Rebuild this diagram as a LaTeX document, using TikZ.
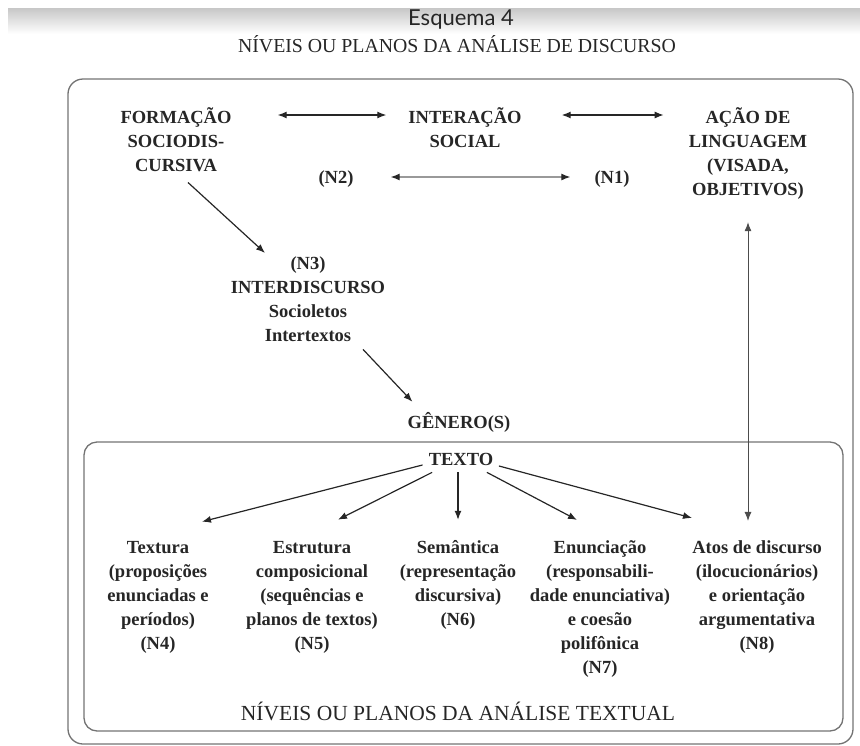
\documentclass[tikz,border=0pt]{standalone}
\usepackage{fontspec}
\setmainfont{Liberation Serif}
\newfontfamily\headfont{Lato}
\usetikzlibrary{arrows.meta}

\begin{document}
\begin{tikzpicture}[x=1pt,y=-1pt,
  >={Latex[length=9pt,width=7pt]},
  lvl/.style={font=\bfseries\fontsize{18.5}{24}\selectfont,align=center,inner sep=0pt,anchor=base,text=black!85},
  ttl/.style={font=\fontsize{19.8}{24}\selectfont,inner sep=0pt,anchor=base,text=black!85},
  frame/.style={draw=black!55,line width=1.3pt,rounded corners=15pt},
  link/.style={line width=1.2pt,draw=black!85}]

\useasboundingbox (0,0) rectangle (860,745);
\shade[top color=black!22,bottom color=white] (8,8) rectangle (860,34);

\node[ttl,font=\headfont\fontsize{22}{24}\selectfont] (esq) at (461,25) {Esquema 4};
\node[ttl] (tit) at (457,52) {NÍVEIS OU PLANOS DA ANÁLISE DE DISCURSO};

\draw[frame] (68,79) rectangle (853,744);
\draw[frame,rounded corners=13pt] (84,442) rectangle (843,731);

\node[lvl] (form) at (176,171) {FORMAÇÃO\\SOCIODIS-\\CURSIVA};
\node[lvl] (inter) at (465,147) {INTERAÇÃO\\SOCIAL};
\node[lvl] (acao) at (748,195) {AÇÃO DE\\LINGUAGEM\\(VISADA,\\OBJETIVOS)};
\node[lvl] (ntwo) at (336,183) {(N2)};
\node[lvl] (none) at (612,183) {(N1)};
\node[lvl] (inter3) at (308,341) {(N3)\\INTERDISCURSO\\Socioletos\\Intertextos};
\node[lvl] (gen) at (459,428) {GÊNERO(S)};
\node[lvl] (texto) at (461,465) {TEXTO};
\node[lvl] (tex) at (158,649) {Textura\\(proposições\\enunciadas e\\períodos)\\(N4)};
\node[lvl] (estr) at (312,649) {Estrutura\\composicional\\(sequências e\\planos de textos)\\(N5)};
\node[lvl] (sem) at (458,625) {Semântica\\(representação\\discursiva)\\(N6)};
\node[lvl] (enun) at (600,673) {Enunciação\\(responsabili-\\dade enunciativa)\\e coesão\\polifônica\\(N7)};
\node[lvl] (atos) at (757,649) {Atos de discurso\\(ilocucionários)\\e orientação\\argumentativa\\(N8)};
\node[ttl,font=\fontsize{21.5}{24}\selectfont] (sub) at (458,720) {NÍVEIS OU PLANOS DA ANÁLISE TEXTUAL};

\coordinate (toprow) at (0,115);
\draw[link,<->,shorten <=46pt,shorten >=22pt] (form.east |- toprow) -- (inter.west |- toprow);
\draw[link,<->,shorten <=40pt,shorten >=25pt] (inter.east |- toprow) -- (acao.west |- toprow);
\draw[line width=1.2pt,draw=black!40,{Latex[length=9pt,width=7pt,color=black!85]}-{Latex[length=9pt,width=7pt,color=black!85]},shorten <=37pt,shorten >=24pt] ([yshift=6pt]ntwo.base east) -- ([yshift=6pt]none.base west);
\draw[link,->] ([xshift=12pt,yshift=-11pt]form.south) -- ([xshift=-43pt,yshift=3pt]inter3.north);
\draw[link,->] ([xshift=55pt,yshift=-8pt]inter3.south) -- ([xshift=5pt,yshift=10pt]gen.north west);
\draw[link,<->,line width=1pt,draw=black!70,shorten <=23pt,shorten >=19pt] (acao.south) -- (acao.south |- atos.north);

\draw[link,->] ([xshift=-6pt,yshift=-6pt]texto.west) -- ([xshift=44pt,yshift=19pt]tex.north);
\draw[link,->] ([xshift=3.5pt,yshift=-7pt]texto.south west) -- ([xshift=26pt,yshift=21pt]estr.north);
\draw[link,->,shorten <=7pt,shorten >=20pt] (texto.south -| sem.north) -- (sem.north);
\draw[link,->] ([xshift=-6.5pt,yshift=-7pt]texto.south east) -- ([xshift=-23pt,yshift=20pt]enun.north);
\draw[link,->] ([xshift=5.5pt,yshift=-7pt]texto.east) -- ([xshift=-65pt,yshift=22pt]atos.north);
\end{tikzpicture}
\end{document}
